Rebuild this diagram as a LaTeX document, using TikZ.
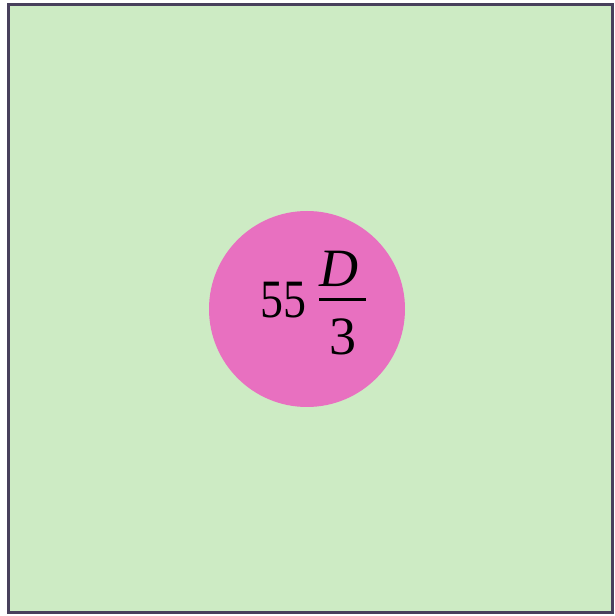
\documentclass[tikz,border=0pt]{standalone}
\usepackage{amsmath}
\usepackage{graphicx}
\usepackage{fontspec}
\setmainfont{Liberation Serif}
\usepackage{tikz}
\usetikzlibrary{positioning}
\definecolor{fieldgreen}{RGB}{205,235,196}
\definecolor{framepurple}{RGB}{72,64,92}
\definecolor{discpink}{RGB}{232,112,192}

\begin{document}
\begin{tikzpicture}[x=1pt,y=1pt]
\useasboundingbox (0,0) rectangle (615,616);
\draw[fill=fieldgreen,draw=framepurple,line width=3pt] (8,3) rectangle (612,611);
\node[circle,fill=discpink,inner sep=0pt,minimum size=196pt] (disc) at (307,307) {};
\node[font=\fontsize{54}{60}\selectfont,inner sep=0pt] (val) at (314,313) {$\text{\raisebox{-12pt}{\scalebox{0.85}[1]{55}}}\hspace{12pt}\genfrac{}{}{2.5pt}{0}{\textit{D}\hspace{8pt}\rule[-4pt]{0pt}{0pt}}{\rule{0pt}{46pt}\text{3}}$};
\end{tikzpicture}
\end{document}
